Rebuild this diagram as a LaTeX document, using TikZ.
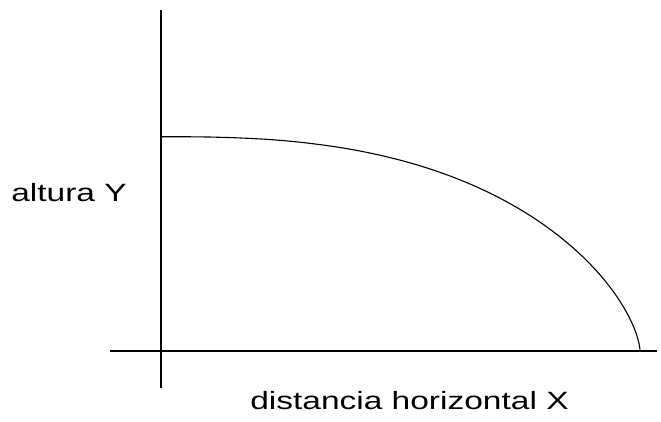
\documentclass[tikz,border=0pt]{standalone}
\usepackage{fontspec}
\setmainfont{Liberation Sans}
\begin{document}
\begin{tikzpicture}[x=1pt,y=-1pt,
  axisline/.style={line width=1.6pt,black},
  curveline/.style={line width=1.1pt,black},
  lbl/.style={font=\fontsize{25}{30}\selectfont, xscale=1.34, inner sep=0pt, anchor=base west}]
\useasboundingbox[fill=white] (0,0) rectangle (661,421);
\coordinate (ytop) at (161,10);
\coordinate (ybot) at (161,388);
\coordinate (xleft) at (110,351);
\coordinate (xright) at (657,351);
\draw[axisline] (ytop) -- (ybot);
\draw[axisline] (xleft) -- (xright);
\draw[curveline] plot[domain=0:90, samples=180, smooth]
  ({162+478*max(sin(\x),0.00001)^0.769}, {351-214.3*max(cos(\x),0.00001)^1.3});
\node[lbl] (ylab) at (11,201) {altura Y};
\node[lbl] (xlab) at (250,409) {distancia horizontal X};
\end{tikzpicture}
\end{document}
